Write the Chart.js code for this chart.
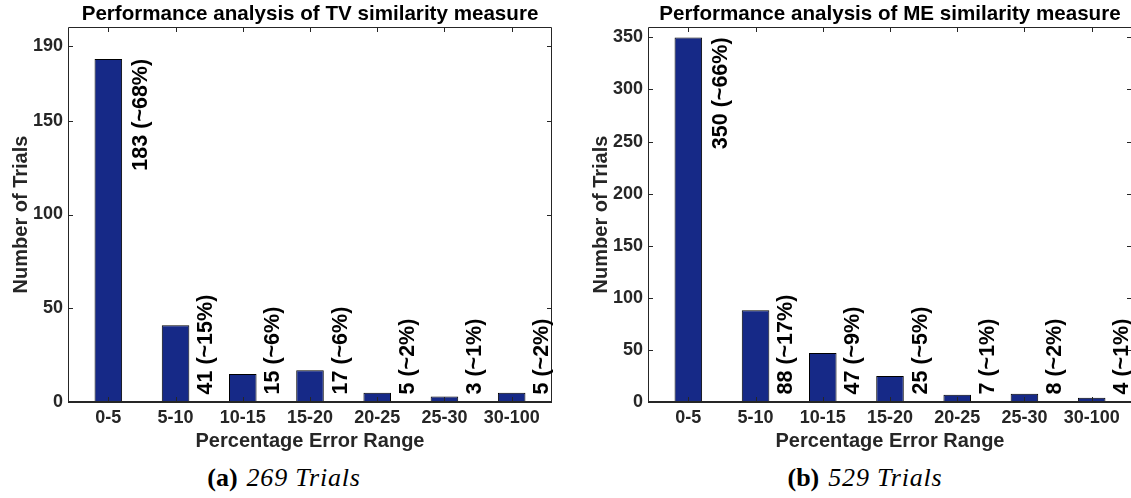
<!DOCTYPE html>
<html>
<head>
<meta charset="utf-8">
<script src="https://cdn.jsdelivr.net/npm/chart.js@4/dist/chart.umd.min.js"></script>
<style>
  html, body { margin: 0; padding: 0; background: #ffffff; }
  body { width: 1131px; height: 498px; overflow: hidden; position: relative; }
  .panel { position: absolute; top: 0; width: 565px; height: 460px; }
  #panelA { left: 0; }
  #panelB { left: 580px; }
  .caption {
    position: absolute; top: 462px; width: 300px; text-align: center;
    font-family: "Liberation Serif", "DejaVu Serif", serif; font-size: 26px; color: #000;
    line-height: 32px; white-space: nowrap;
  }
  .caption b { font-weight: bold; margin-right: 9px; }
  .caption i { font-style: italic; letter-spacing: 0.8px; }
  #capA { left: 134px; }
  #capB { left: 715px; }
</style>
</head>
<body>
<div class="panel" id="panelA"><canvas id="chartA"></canvas></div>
<div class="panel" id="panelB"><canvas id="chartB"></canvas></div>
<div class="caption" id="capA"><b>(a)</b><i>269 Trials</i></div>
<div class="caption" id="capB"><b>(b)</b><i>529 Trials</i></div>
<script>
// Error-range bins shared by both histograms
const categories = ['0-5', '5-10', '10-15', '15-20', '20-25', '25-30', '30-100'];

// TV similarity measure (269 trials)
const tvCounts = [183, 41, 15, 17, 5, 3, 5];
const tvShares = [68, 15, 6, 6, 2, 1, 2];
const tvTicks = [0, 50, 100, 150, 190];
const tvMax = 200;

// ME similarity measure (529 trials)
const meCounts = [350, 88, 47, 25, 7, 8, 4];
const meShares = [66, 17, 9, 5, 1, 2, 1];
const meTicks = [0, 50, 100, 150, 200, 250, 300, 350];
const meMax = 360;

const AXIS_COLOR = '#262626';
const BAR_COLOR = 'rgb(22, 41, 135)';
const SANS = '"Liberation Sans", Arial, Helvetica, sans-serif';

// Title centred over the plot box
const titlePlugin = {
  id: 'boxTitle',
  afterDraw(chart, args, opts) {
    const { ctx, chartArea } = chart;
    ctx.save();
    ctx.font = 'bold 20.6px ' + SANS;
    ctx.fillStyle = '#000';
    ctx.textAlign = 'center';
    ctx.textBaseline = 'alphabetic';
    ctx.fillText(opts.text, (chartArea.left + chartArea.right) / 2, 20);
    ctx.restore();
  }
};

// Boxed axes with inward tick marks on all four sides
const boxPlugin = {
  id: 'boxAxes',
  afterDatasetsDraw(chart) {
    const { ctx, chartArea, scales } = chart;
    const { left, right, top, bottom } = chartArea;
    const tick = 5;
    ctx.save();
    ctx.strokeStyle = AXIS_COLOR;
    ctx.lineWidth = 1;
    ctx.beginPath();
    ctx.moveTo(Math.round(left) + 0.5, Math.round(bottom));
    ctx.lineTo(Math.round(left) + 0.5, Math.round(top) + 0.5);
    ctx.lineTo(Math.round(right) - 0.5, Math.round(top) + 0.5);
    ctx.lineTo(Math.round(right) - 0.5, Math.round(bottom));
    scales.y.ticks.forEach(t => {
      const y = Math.round(scales.y.getPixelForValue(t.value)) + 0.5;
      ctx.moveTo(left, y); ctx.lineTo(left + tick, y);
      ctx.moveTo(right, y); ctx.lineTo(right - tick, y);
    });
    scales.x.ticks.forEach(t => {
      const x = Math.round(scales.x.getPixelForValue(t.value)) + 0.5;
      ctx.moveTo(x, top); ctx.lineTo(x, top + tick);
      ctx.moveTo(x, bottom); ctx.lineTo(x, bottom - tick);
    });
    ctx.stroke();
    // baseline at zero
    ctx.lineWidth = 2;
    ctx.beginPath();
    const y0 = Math.round(scales.y.getPixelForValue(0));
    ctx.moveTo(left, y0); ctx.lineTo(right, y0);
    ctx.stroke();
    ctx.restore();
  }
};

// Rotated count/share labels beside each bar
const barLabelPlugin = {
  id: 'barLabels',
  afterDatasetsDraw(chart, args, opts) {
    const { ctx, scales } = chart;
    const meta = chart.getDatasetMeta(0);
    const y0 = scales.y.getPixelForValue(0);
    ctx.save();
    ctx.font = 'bold 21.5px ' + SANS;
    ctx.fillStyle = '#000';
    ctx.textBaseline = 'alphabetic';
    meta.data.forEach((bar, i) => {
      const value = opts.counts[i];
      const text = value + ' (~' + opts.shares[i] + '%)';
      const w = ctx.measureText(text).width;
      const topY = scales.y.getPixelForValue(value);
      const fitsInside = (y0 - topY) > w + 10;
      ctx.save();
      if (fitsInside) {
        ctx.translate(bar.x + 39, topY);
        ctx.rotate(-Math.PI / 2);
        ctx.textAlign = 'right';
      } else {
        ctx.translate(bar.x + 36.5, y0 - 7.5);
        ctx.rotate(-Math.PI / 2);
        ctx.textAlign = 'left';
      }
      ctx.fillText(text, 0, 0);
      ctx.restore();
    });
    ctx.restore();
  }
};

function makeChart(canvasId, title, counts, shares, yTicks, yMax) {
  const points = counts.map((v, i) => ({ x: i + 1, y: v }));
  return new Chart(document.getElementById(canvasId), {
    type: 'bar',
    data: {
      datasets: [{
        data: points,
        backgroundColor: BAR_COLOR,
        borderColor: '#000',
        borderWidth: 1,
        borderSkipped: false,
        categoryPercentage: 1,
        barPercentage: 0.41
      }]
    },
    options: {
      responsive: true,
      maintainAspectRatio: false,
      animation: false,
      layout: { padding: { top: 27, right: 13, left: 0, bottom: 0 } },
      plugins: {
        legend: { display: false },
        tooltip: { enabled: false },
        boxTitle: { text: title },
        barLabels: { counts: counts, shares: shares }
      },
      scales: {
        x: {
          type: 'linear',
          offset: false,
          min: 0.4,
          max: 7.6,
          grid: { display: false, drawTicks: false },
          border: { display: false },
          afterBuildTicks(scale) {
            scale.ticks = categories.map((c, i) => ({ value: i + 1 }));
          },
          afterFit(scale) { scale.height = 58; },
          ticks: {
            autoSkip: false,
            maxRotation: 0,
            padding: 5,
            color: AXIS_COLOR,
            font: { family: SANS, size: 18, weight: 'bold' },
            callback: (v) => categories[Math.round(v) - 1]
          },
          title: {
            display: true,
            text: 'Percentage Error Range',
            color: AXIS_COLOR,
            font: { family: SANS, size: 20, weight: 'bold' },
            padding: { top: 0, bottom: 7 }
          }
        },
        y: {
          min: 0,
          max: yMax,
          grid: { display: false, drawTicks: false },
          border: { display: false },
          afterBuildTicks(scale) {
            scale.ticks = yTicks.map(v => ({ value: v }));
          },
          afterFit(scale) { scale.width = 68; },
          ticks: {
            padding: 5,
            color: AXIS_COLOR,
            font: { family: SANS, size: 18, weight: 'bold' }
          },
          title: {
            display: true,
            text: 'Number of Trials',
            color: AXIS_COLOR,
            font: { family: SANS, size: 20, weight: 'bold' },
            padding: { top: 9, bottom: 0 }
          }
        }
      }
    },
    plugins: [titlePlugin, boxPlugin, barLabelPlugin]
  });
}

makeChart('chartA', 'Performance analysis of TV similarity measure', tvCounts, tvShares, tvTicks, tvMax);
makeChart('chartB', 'Performance analysis of ME similarity measure', meCounts, meShares, meTicks, meMax);
</script>
</body>
</html>
